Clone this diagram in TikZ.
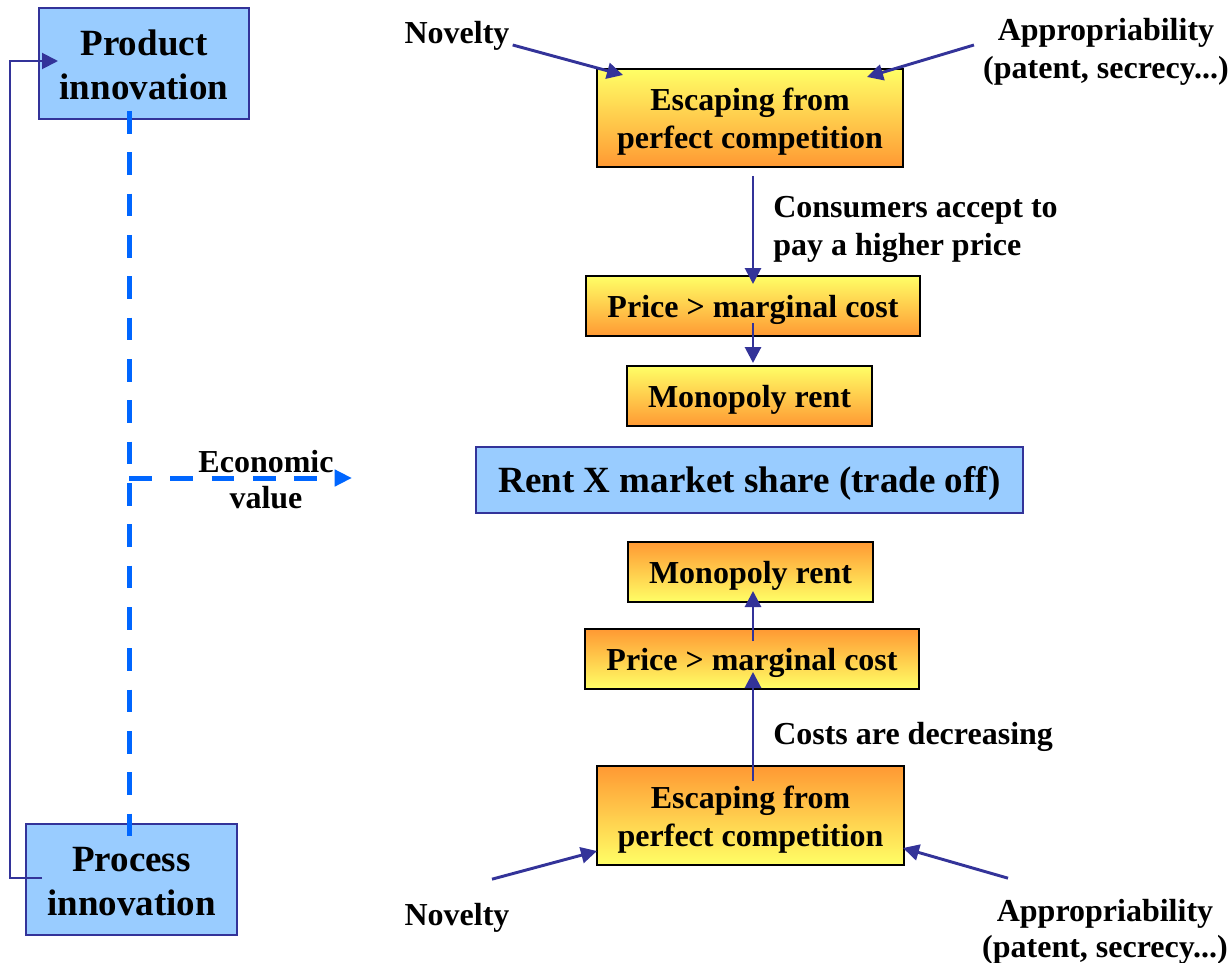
\documentclass[tikz,border=0pt]{standalone}
\usepackage{fontspec}
\setmainfont{Liberation Serif}
\usetikzlibrary{arrows.meta,calc}
\definecolor{lblue}{HTML}{99CCFF}
\definecolor{dblue}{HTML}{333399}
\definecolor{bblue}{HTML}{0066FF}
\definecolor{yel}{HTML}{FFFF66}
\definecolor{ora}{HTML}{FF9933}
\begin{document}
\begin{tikzpicture}[x=0.75pt,y=-0.75pt,
  every node/.style={font=\bfseries\fontsize{24}{28.5}\selectfont, inner sep=0pt},
  bigtext/.style={font=\bfseries\fontsize{27.75}{33}\selectfont, align=center},
  bluebox/.style={draw=dblue, line width=1.5pt, fill=lblue},
  upbox/.style={draw=black, line width=1.5pt, top color=yel, bottom color=ora},
  downbox/.style={draw=black, line width=1.5pt, top color=ora, bottom color=yel},
  conn/.style={draw=dblue, line width=2.2pt, -{Triangle[length=12pt,width=12pt]}},
  dashconn/.style={draw=bblue, line width=3.75pt, dash pattern=on 17pt off 14pt},
  lbl/.style={align=center}]
\useasboundingbox (0,0) rectangle (1232,963);

% boxes
\node[bluebox, minimum width=157.5pt, minimum height=83.25pt] (prod) at (144,63.5) {};
\node[bigtext] (prodt) at ($(prod)+(0,1.5)$) {Product\\innovation};
\node[bluebox, minimum width=158.25pt, minimum height=83.25pt] (proc) at (131.5,879.5) {};
\node[bigtext] (proct) at ($(proc)+(0,2)$) {Process\\innovation};
\node[upbox, minimum width=229.5pt, minimum height=73.5pt] (esc1) at (750,118) {};
\node[lbl] (esc1t) at ($(esc1)+(0,4)$) {Escaping from\\perfect competition};
\node[upbox, minimum width=250.5pt, minimum height=45pt] (price1) at (753,306) {};
\node (price1t) at ($(price1)+(0,4)$) {Price > marginal cost};
\node[upbox, minimum width=183.75pt, minimum height=45pt] (mono1) at (749.5,396) {};
\node (mono1t) at ($(mono1)+(0,4)$) {Monopoly rent};
\node[bluebox, minimum width=410.25pt, minimum height=49.5pt] (rent) at (749.5,480) {};
\node[bigtext] (rentt) at ($(rent)+(0,3)$) {Rent X market share (trade off)};
\node[downbox, minimum width=183.75pt, minimum height=45pt] (mono2) at (750.5,572) {};
\node (mono2t) at ($(mono2)+(0,4)$) {Monopoly rent};
\node[downbox, minimum width=250.5pt, minimum height=45pt] (price2) at (752,659) {};
\node (price2t) at ($(price2)+(0,4)$) {Price > marginal cost};
\node[downbox, minimum width=230.25pt, minimum height=74.25pt] (esc2) at (750.5,815.5) {};
\node[lbl] (esc2t) at ($(esc2)+(0,4)$) {Escaping from\\perfect competition};

% labels
\node (nov1) at (457,36) {Novelty};
\node[lbl] (app1) at (1106,52) {Appropriability\\(patent, secrecy...)};
\node (nov2) at (457,918) {Novelty};
\node[lbl, font=\bfseries\fontsize{24}{27}\selectfont] (app2) at (1105,932) {Appropriability\\(patent, secrecy...)};
\node[align=left, anchor=west] (cons) at (773,229) {Consumers accept to\\pay a higher price};
\node[anchor=west] (costs) at (773,737) {Costs are decreasing};
\node[lbl, font=\bfseries\fontsize{24}{27}\selectfont] (econ) at (266,480) {Economic\\value};

% connectors
\draw[conn] ($(nov1.east)+(3,9)$) -- ($(esc1.north west)+(27,7)$);
\draw[conn] ($(app1.west)+(-9,-7)$) -- ($(esc1.north east)+(-37,9)$);
\draw[conn] ($(nov2.north)+(35,-24)$) -- ($(esc2.south west)+(1,-15)$);
\draw[conn] ($(app2.north)+(-97,-21)$) -- ($(esc2.south east)+(-2,-18)$);

\draw[conn] ($(esc1.south)+(3,8)$) -- ($(price1.north)+(0,9)$);
\draw[conn] ($(price1.south)+(0,-14)$) -- ($(mono1.north)+(3.5,-2)$);
\draw[conn] ($(price2.north)+(1,13)$) -- ($(mono2.south)+(2.5,-12)$);
\draw[conn] ($(esc2.north)+(2.5,16)$) -- ($(price2.south)+(1,-18)$);

\draw[conn, line width=1.5pt] ($(proc.west)+(17,-1.5)$) -- ++(-32,0) |- ($(prod.west)+(20,-2.5)$);

% dashed
\draw[dashconn] ($(prod.south)+(-15,-9)$) -- ($(proc.north)+(-2.5,21)$);
\coordinate (dj) at (129,478);
\coordinate (ev) at (352,478);
\draw[dashconn, -{Triangle[length=13pt,width=12pt]}] (dj) -- (ev);
\end{tikzpicture}
\end{document}
